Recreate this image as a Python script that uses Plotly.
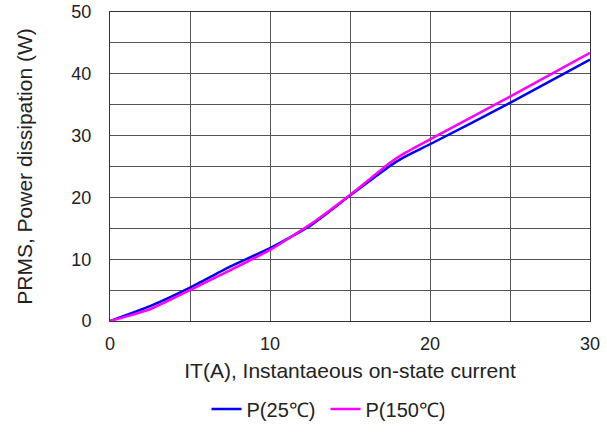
import plotly.graph_objects as go

x_25 = [0, 2.5, 5, 7.5, 10, 12.5, 15, 17.5, 18.3, 20, 25, 30]
p_25 = [0, 2.4, 5.4, 8.8, 11.8, 15.4, 20.3, 25.1, 26.4, 28.6, 35.3, 42.3]
x_150 = [0, 2.5, 5, 7.5, 10, 12.5, 15, 17.5, 18.3, 20, 25, 30]
p_150 = [0, 1.9, 5.0, 8.2, 11.5, 15.6, 20.4, 25.6, 27.0, 29.4, 36.3, 43.4]

fig = go.Figure()
fig.add_trace(go.Scatter(x=x_25, y=p_25, mode="lines", name="P(25℃)",
                         line=dict(color="#0000ff", width=2.5, shape="spline", smoothing=0.5)))
fig.add_trace(go.Scatter(x=x_150, y=p_150, mode="lines", name="P(150℃)",
                         line=dict(color="#ff00ff", width=2.5, shape="spline", smoothing=0.5)))

grid = "#555555"
axis_common = dict(showline=True, linecolor="#333333", linewidth=1, mirror=True,
                   showgrid=True, gridcolor=grid, gridwidth=1, zeroline=False,
                   ticks="", automargin=False, tickfont=dict(size=18, color="#222222"))
fig.update_xaxes(range=[0, 30], tickvals=[0, 10, 20, 30], ticklabelstandoff=6,
                 minor=dict(dtick=5, showgrid=True, gridcolor=grid, gridwidth=1),
                 title=dict(text="IT(A), Instantaeous on-state current",
                            font=dict(size=21, color="#222222"), standoff=10),
                 **axis_common)
fig.update_yaxes(range=[0, 50], tickvals=[0, 10, 20, 30, 40, 50], ticklabelstandoff=14,
                 minor=dict(dtick=5, showgrid=True, gridcolor=grid, gridwidth=1),
                 title=dict(text="PRMS, Power dissipation (W)",
                            font=dict(size=21, color="#222222"), standoff=33),
                 **axis_common)
fig.update_layout(
    width=607, height=432,
    margin=dict(l=110, r=17, t=12, b=111, autoexpand=False),
    paper_bgcolor="white", plot_bgcolor="white",
    font=dict(family="Liberation Sans, Arial, sans-serif", color="#222222"),
    legend=dict(orientation="h", x=0.449, xanchor="center",
                yref="container", y=0.053, yanchor="middle",
                font=dict(size=20), itemwidth=30,
                entrywidth=74, entrywidthmode="pixels"),
    showlegend=True,
)
fig.write_html("out.html")
